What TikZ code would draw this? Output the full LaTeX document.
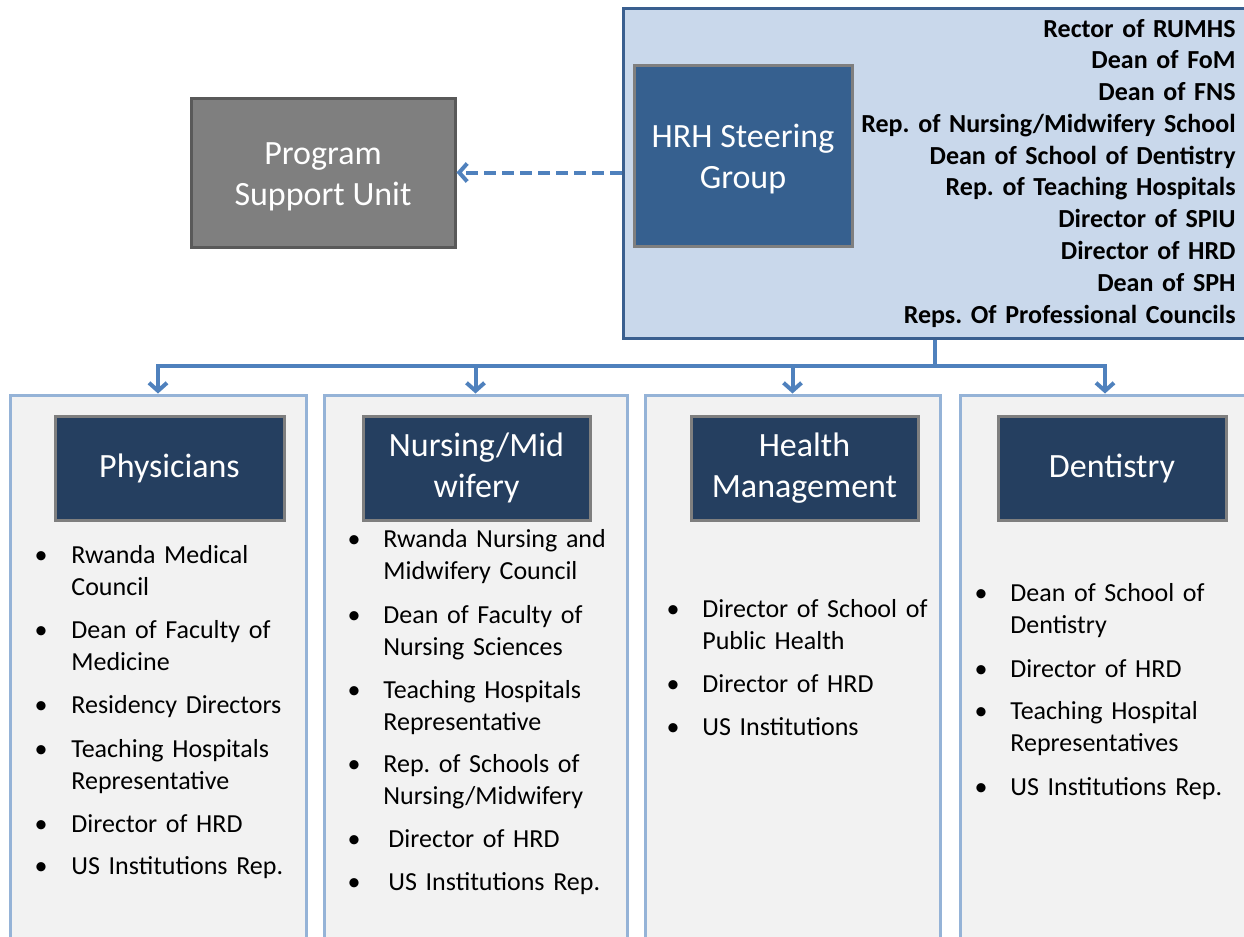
\documentclass[tikz,border=0pt]{standalone}
\usepackage{fontspec}
\setmainfont{Carlito}
\frenchspacing
\usepackage{tikz}
\usetikzlibrary{arrows.meta,positioning,fit,calc}

\definecolor{steerfill}{HTML}{C9D8EB}
\definecolor{steerline}{HTML}{3A5F8F}
\definecolor{hrhfill}{HTML}{36608F}
\definecolor{hdrfill}{HTML}{253F60}
\definecolor{psufill}{HTML}{7F7F7F}
\definecolor{psuline}{HTML}{595959}
\definecolor{colfill}{HTML}{F2F2F2}
\definecolor{colline}{HTML}{95B3D7}
\definecolor{connblue}{HTML}{4F81BD}

\tikzset{
  colbox/.style={draw=colline, line width=1.5pt, fill=colfill, inner sep=0pt},
  hdrbox/.style={draw=psufill, line width=1.5pt, fill=hdrfill, inner sep=0pt},
  boxtext/.style={inner sep=0pt, text=white, align=center,
    font=\fontsize{17}{20.5}\selectfont},
  conn/.style={draw=connblue, line width=2pt, -{Straight Barb[length=4pt,width=9pt]}},
  dot/.style={anchor=base, inner sep=0pt, font=\fontsize{13}{16}\selectfont},
  memb/.style={anchor=base west, inner sep=0pt, text width=120pt, align=left,
    font=\fontsize{13}{16}\selectfont},
}

\begin{document}
\begin{tikzpicture}[x=0.5pt,y=-0.5pt]
    \useasboundingbox (0,0) rectangle (1244,937);
    \clip (0,0) rectangle (1244,937);

    % steering group
    \node[draw=steerline, line width=1.5pt, fill=steerfill, inner sep=0pt,
          fit={(623,8) (1260,338)}] (steer) {};
    \node[draw=psufill, line width=1.5pt, fill=hrhfill, inner sep=0pt,
          fit={(634,65) (852,246)}] (hrh) {};
    \node[boxtext] (hrhlbl) at ($(hrh.center)+(0,4)$) {HRH Steering\\Group};
    \node[anchor=base east, inner sep=0pt, text width=220pt, align=right,
          font=\bfseries\fontsize{13}{15.9}\selectfont] (members) at (1236,37)
      {Rector of RUMHS\\Dean of FoM\\Dean of FNS\\Rep. of Nursing/Midwifery School\\
       Dean of School of Dentistry\\Rep. of Teaching Hospitals\\Director of SPIU\\
       Director of HRD\\Dean of SPH\\Reps. Of Professional Councils};

    % program support unit
    \node[draw=psuline, line width=1.5pt, fill=psufill, inner sep=0pt,
          fit={(191,98) (455,247)}] (psu) {};
    \node[boxtext] (psulbl) at ($(psu.center)+(0,4)$) {Program\\Support Unit};
    \draw[conn, dashed, dash pattern=on 6pt off 3pt] (steer.west |- psu.east) -- (psu.east);

    % columns
    \node[colbox, fit={(10,395) (306,960)}] (phys) {};
    \node[colbox, fit={(324,395) (627,960)}] (nurse) {};
    \node[colbox, fit={(645,395) (940,960)}] (hm) {};
    \node[colbox, fit={(960,395) (1250,960)}] (dent) {};

    \node[hdrbox, fit={(55,416) (284,520)}] (physhd) {};
    \node[hdrbox, fit={(363,416) (590,520)}] (nursehd) {};
    \node[hdrbox, fit={(691,416) (918,520)}] (hmhd) {};
    \node[hdrbox, fit={(998,416) (1226,520)}] (denthd) {};
    \node[boxtext] at (physhd) {Physicians};
    \node[boxtext] at (nursehd) {Nursing/Mid\\wifery};
    \node[boxtext] at (hmhd) {Health\\Management};
    \node[boxtext] at (denthd) {Dentistry};

    % connectors
    \coordinate (split) at (935,366);
    \draw[conn, -] (steer.south -| split) -- (split);
    \draw[conn] (split) -| (phys.north);
    \draw[conn] (split) -| (nurse.north);
    \draw[conn] (split) -| (hm.north);
    \draw[conn] (split) -| (dent.north);

    % member lists
    \foreach \yy/\txt [count=\i] in {563/{Rwanda Medical\\Council},
        638/{Dean of Faculty of\\Medicine}, 713/{Residency Directors},
        757/{Teaching Hospitals\\Representative}, 832/{Director of HRD},
        874/{US Institutions Rep.}} {
      \node[dot] at (41,\yy) {\textbullet};
      \node[memb] (phys\i) at (71,\yy) {\txt};
    }
    \foreach \yy/\xx/\txt [count=\i] in {547/383/{Rwanda Nursing and\\Midwifery Council},
        623/383/{Dean of Faculty of\\Nursing Sciences},
        698/383/{Teaching Hospitals\\Representative},
        772/383/{Rep. of Schools of\\Nursing/Midwifery},
        847/388/{Director of HRD}, 890/388/{US Institutions Rep.}} {
      \node[dot] at (354,\yy) {\textbullet};
      \node[memb] (nurse\i) at (\xx,\yy) {\txt};
    }
    \foreach \yy/\txt [count=\i] in {617/{Director of School of\\Public Health},
        692/{Director of HRD}, 735/{US Institutions}} {
      \node[dot] at (673,\yy) {\textbullet};
      \node[memb] (hm\i) at (702,\yy) {\txt};
    }
    \foreach \yy/\txt [count=\i] in {601/{Dean of School of\\Dentistry},
        677/{Director of HRD}, 719/{Teaching Hospital\\Representatives},
        795/{US Institutions Rep.}} {
      \node[dot] at (981,\yy) {\textbullet};
      \node[memb] (dent\i) at (1010,\yy) {\txt};
    }
\end{tikzpicture}
\end{document}
